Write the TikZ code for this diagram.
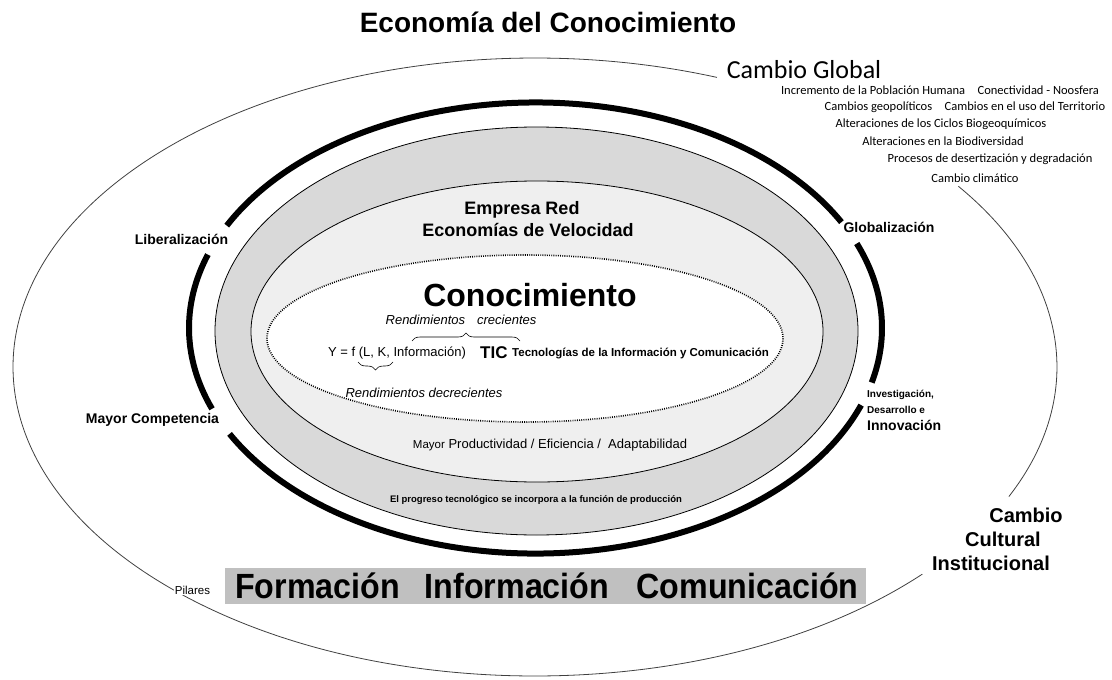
\documentclass[tikz,border=0pt]{standalone}
\usepackage{fontspec}
\setmainfont{Liberation Sans}
\newfontfamily\calibri{Carlito}
\usetikzlibrary{decorations.pathreplacing}

\definecolor{anillo}{HTML}{D9D9D9}
\definecolor{nucleo}{HTML}{EFEFEF}
\definecolor{pilar}{HTML}{C0C0C0}
\newcommand{\fsz}[1]{\fontsize{#1}{#1}\selectfont}

\begin{document}
\begin{tikzpicture}[x=1pt,y=-1pt,
	etiq/.style={font=\fsz{14}\bfseries, inner sep=1pt},
	lista/.style={font=\calibri\fsz{12.5}, inner sep=0pt},
	cambio/.style={font=\fsz{20}\bfseries, inner sep=0pt},
	llave/.style={decorate, decoration={brace, amplitude=#1}, line width=0.6pt}]
	\useasboundingbox (0,0) rectangle (1112,680);
	\draw[black!75, line width=0.8pt] (535,367) ++(-35.8:522 and 309) arc[start angle=-35.8, end angle=24.8, x radius=522, y radius=309];
	\draw[black!75, line width=0.8pt] (535,367) ++(42.1:522 and 309) arc[start angle=42.1, end angle=290.4, x radius=522, y radius=309];
	\foreach \a/\b in {-153/-28, -201/-161, 20/152, -22/14} {
		\draw[line width=6pt] (535.5,328) ++(\a:346.5 and 225.5) arc[start angle=\a, end angle=\b, x radius=346.5, y radius=225.5];
	}
	\draw[fill=anillo, line width=0.8pt] (536.5,331) ellipse [x radius=321.5, y radius=204];
	\draw[fill=nucleo, line width=0.8pt] (537,331.5) ellipse [x radius=286, y radius=150.5];
	\draw[fill=white, line width=1.6pt, dash pattern=on 0.9pt off 1.3pt] (525,338.5) ellipse [x radius=258, y radius=83.5];

	\node (titulo) at (548,22) [font=\fsz{28}\bfseries] {Economía del Conocimiento};
	\node (global) at (804,78) [anchor=base, font=\calibri\fsz{26}, inner sep=0pt, text depth=0pt] {Cambio Global};
	\node (g1) at (940,90.5) [lista] {Incremento de la Población Humana\quad Conectividad - Noosfera};
	\node (g2) at (965,107.5) [lista] {Cambios geopolíticos\quad Cambios en el uso del Territorio};
	\node (g3) at (941,124) [lista] {Alteraciones de los Ciclos Biogeoquímicos};
	\node (g4) at (943,141) [lista] {Alteraciones en la Biodiversidad};
	\node (g5) at (990,159) [lista] {Procesos de desertización y degradación};
	\node (g6) at (975,178) [lista] {Cambio climático};

	\node (empresa) at (522,210) [font=\fsz{18}\bfseries, inner sep=0pt] {Empresa Red};
	\node (velocidad) at (528,230) [font=\fsz{18}\bfseries, inner sep=0pt] {Economías de Velocidad};
	\node (conoc) at (530,295) [font=\fsz{32}\bfseries, inner sep=0pt] {Conocimiento};
	\node (crec) at (461,320) [font=\fsz{13}\itshape, inner sep=0pt] {Rendimientos\hspace{12pt}crecientes};
	\node (funcion) at (328,353) [anchor=west, font=\fsz{13}, inner sep=0pt] {Y = f (L, K, Información)};
	\node (tic) at (480,353) [anchor=west, font=\fsz{17}\bfseries, inner sep=0pt] {TIC};
	\node (tecno) at (512,353) [anchor=west, font=\fsz{11.5}\bfseries, inner sep=0pt] {Tecnologías de la Información y Comunicación};
	\coordinate (cA) at (412,341);
	\coordinate (cB) at (520,341);
	\coordinate (dA) at (358,362);
	\coordinate (dB) at (393,362);
	\draw[llave=8pt] (cA) -- (cB);
	\draw[llave=8pt] (dB) -- (dA);
	\node (decrec) at (424,393) [font=\fsz{13}\itshape, inner sep=0pt] {Rendimientos decrecientes};
	\node (product) at (550,445) [font=\fsz{13}, inner sep=0pt] {{\fsz{11.5}Mayor} Productividad / Eficiencia /\ \ Adaptabilidad};
	\node (progreso) at (536,500) [font=\fsz{9.5}\bfseries, inner sep=0pt] {El progreso tecnológico se incorpora a la función de producción};

	\node (libera) at (181.5,239) [etiq] {Liberalización};
	\node (compet) at (152.5,420) [etiq] {Mayor Competencia};
	\node (globa) at (889,227) [etiq] {Globalización};
	\node (inv1) at (867,395) [anchor=west, font=\fsz{10}\bfseries, inner sep=0pt] {Investigación,};
	\node (inv2) at (867,410) [anchor=west, font=\fsz{10}\bfseries, inner sep=0pt] {Desarrollo e};
	\node (inv3) at (867,425) [anchor=west, font=\fsz{14}\bfseries, inner sep=0pt] {Innovación};
	\node (cc1) at (1026,515) [cambio] {Cambio};
	\node (cc2) at (1003,539) [cambio] {Cultural};
	\node (cc3) at (991,563) [cambio] {Institucional};

	\node (pilares) at (192.5,590) [fill=white, font=\fsz{11.5}, inner sep=1pt] {Pilares};
	\node (barra) at (545.5,586) [fill=pilar, minimum width=641pt, minimum height=36pt, inner sep=0pt] {};
	\node (form) at (317.5,586) [font=\fsz{35}\bfseries, inner sep=0pt] {\scalebox{0.92}[1]{Formación}};
	\node (info) at (517,586) [font=\fsz{35}\bfseries, inner sep=0pt] {\scalebox{0.92}[1]{Información}};
	\node (comu) at (747.5,586) [font=\fsz{35}\bfseries, inner sep=0pt] {\scalebox{0.92}[1]{Comunicación}};
\end{tikzpicture}
\end{document}
